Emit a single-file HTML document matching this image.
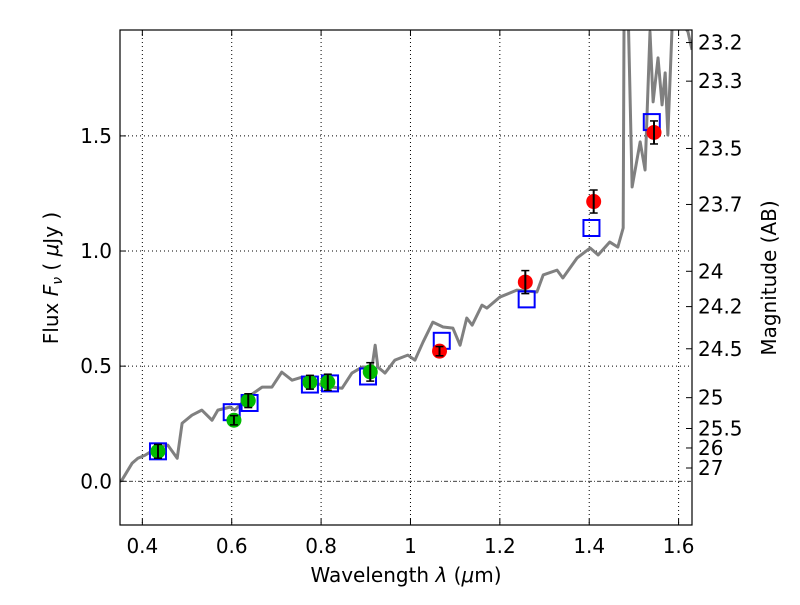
<!DOCTYPE html>
<html><head><meta charset="utf-8"><style>
body{margin:0;background:#fff}
svg{font-family:"DejaVu Sans","Liberation Sans",sans-serif}
</style></head><body>
<svg id="c" width="800" height="600"></svg>
<script>
const specX=[.350,.354,.377,.390,.406,.435,.457,.478,.489,.511,.533,.556,.569,.596,.607,.636,.668,.690,.712,.735,.757,.786,.824,.847,.869,.892,.914,.921,.927,.943,.965,.994,1.010,1.028,1.050,1.073,1.095,1.111,1.126,1.138,1.160,1.171,1.200,1.238,1.283,1.297,1.328,1.341,1.373,1.402,1.420,1.446,1.464,1.476,1.478,1.487,1.496,1.514,1.525,1.536,1.543,1.554,1.563,1.570,1.576,1.587,1.621,1.630];
const specY=[0,.004,.078,.100,.113,.148,.157,.100,.252,.287,.309,.265,.309,.322,.309,.365,.409,.409,.474,.439,.452,.426,.409,.404,.470,.496,.496,.591,.496,.470,.526,.548,.526,.604,.691,.670,.665,.591,.709,.678,.765,.752,.800,.830,.822,.896,.917,.883,.970,1.013,.983,1.039,1.017,1.100,2.05,2.05,1.278,1.474,1.352,1.952,1.648,1.839,1.635,1.774,1.504,2.05,1.952,1.874];
const optX=[0.435,0.605,0.637,0.775,0.815,0.91];
const optY=[0.13,0.265,0.35,0.43,0.43,0.475];
const optE=[0.03,0.02,0.03,0.03,0.035,0.04];
const irX=[1.065,1.257,1.41,1.545];
const irY=[0.565,0.865,1.215,1.515];
const irE=[0.02,0.05,0.05,0.05];
const modX=[0.435,0.60,0.64,0.775,0.82,0.905,1.07,1.26,1.405,1.54];
const modY=[0.13,0.30,0.34,0.42,0.425,0.455,0.61,0.79,1.10,1.56];
const xTicks=[0.4,0.6,0.8,1.0,1.2,1.4,1.6];
const xTickLabels=["0.4","0.6","0.8","1","1.2","1.4","1.6"];
const yTicks=[0,0.5,1.0,1.5];
const yTickLabels=["0.0","0.5","1.0","1.5"];
const magTicks=[23.2,23.3,23.5,23.7,24,24.2,24.5,25,25.5,26,27];

const L=120,R=692,T=30,B=525,x0=0.35,x1=1.63,y0=-0.19,y1=1.96;
const X=v=>L+(v-x0)/(x1-x0)*(R-L);
const Y=v=>B-(v-y0)/(y1-y0)*(B-T);
const NS="http://www.w3.org/2000/svg";
const svg=document.getElementById('c');
function mk(t,a,p){const e=document.createElementNS(NS,t);for(const k in a)e.setAttribute(k,a[k]);(p||svg).appendChild(e);return e;}
const defs=mk('defs',{});const cp=mk('clipPath',{id:'cl'},defs);mk('rect',{x:L,y:T,width:R-L,height:B-T},cp);
xTicks.forEach(v=>{const g=mk('line',{x1:X(v),x2:X(v),y1:T,y2:B,stroke:'#000','stroke-dasharray':'1,3','stroke-width':1});
});
yTicks.forEach(v=>{if(v===0)return;const g=mk('line',{x1:L,x2:R,y1:Y(v),y2:Y(v),stroke:'#000','stroke-dasharray':'1,3','stroke-width':1});
});
const zl=mk('line',{x1:L,x2:R,y1:Y(0),y2:Y(0),stroke:'#000','stroke-dasharray':'4,2,1,2','stroke-width':0.8});

const sp=mk('polyline',{points:specX.map((v,i)=>X(v)+','+Y(specY[i])).join(' '),fill:'none',stroke:'#808080','stroke-width':3,'clip-path':'url(#cl)','stroke-linejoin':'round'});

modX.forEach((v,i)=>{const s=mk('rect',{x:X(v)-8,y:Y(modY[i])-8,width:16,height:16,fill:'none',stroke:'#0000ff','stroke-width':2});
});
function pts(xs,ys,es,col,name){xs.forEach((v,i)=>{const g=mk('g',{});

mk('circle',{cx:X(v),cy:Y(ys[i]),r:7.5,fill:col},g);
const a=Y(ys[i]+es[i]),b=Y(ys[i]-es[i]),x=X(v);
mk('line',{x1:x,x2:x,y1:a,y2:b,stroke:'#000','stroke-width':2},g);
mk('line',{x1:x-4,x2:x+4,y1:a,y2:a,stroke:'#000','stroke-width':1.5},g);
mk('line',{x1:x-4,x2:x+4,y1:b,y2:b,stroke:'#000','stroke-width':1.5},g);});}
pts(optX,optY,optE,'#00bb00','optical-flux-point');
pts(irX,irY,irE,'#ff0000','nir-flux-point');
const fr=mk('rect',{x:L,y:T,width:R-L,height:B-T,fill:'none',stroke:'#000','stroke-width':1.2});

xTicks.forEach((v,i)=>{mk('line',{x1:X(v),x2:X(v),y1:B,y2:B-6,stroke:'#000'});mk('line',{x1:X(v),x2:X(v),y1:T,y2:T+6,stroke:'#000'});
const t=mk('text',{x:X(v),y:B+28,'text-anchor':'middle','font-size':20});t.textContent=xTickLabels[i];
});
yTicks.forEach((v,i)=>{mk('line',{x1:L,x2:L+6,y1:Y(v),y2:Y(v),stroke:'#000'});
const t=mk('text',{x:L-8,y:Y(v)+7,'text-anchor':'end','font-size':20});t.textContent=yTickLabels[i];
});
magTicks.forEach(m=>{const y=Y(Math.pow(10,(23.9-m)/2.5));mk('line',{x1:R,x2:R-6,y1:y,y2:y,stroke:'#000'});
const t=mk('text',{x:R+6,y:y+7,'font-size':20});t.textContent=String(m);
});
</script>
<svg style="position:absolute;left:0;top:0" width="800" height="600" font-family="DejaVu Sans, Liberation Sans, sans-serif">
<text x="406" y="582" text-anchor="middle" font-size="20">Wavelength  <tspan font-style="italic">λ</tspan> (<tspan font-style="italic">μ</tspan>m)</text>
<text transform="translate(58,278) rotate(-90)" text-anchor="middle" font-size="20">Flux  <tspan font-style="italic">F<tspan font-size="14" dy="4">ν</tspan></tspan><tspan dy="-4">  ( </tspan><tspan font-style="italic">μ</tspan>Jy )</text>
<text transform="translate(776,278) rotate(-90)" text-anchor="middle" font-size="20">Magnitude (AB)</text>
</svg>
</body></html>
